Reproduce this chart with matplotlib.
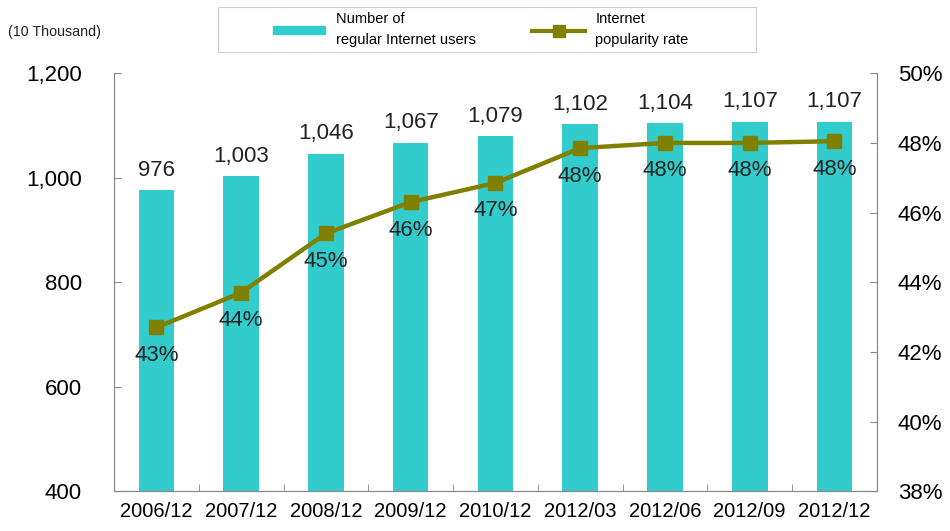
import numpy as np
import matplotlib.pyplot as plt
from matplotlib.patches import Rectangle

plt.rcParams['font.family'] = ['Liberation Sans', 'DejaVu Sans']

# data
periods = ['2006/12', '2007/12', '2008/12', '2009/12', '2010/12',
           '2012/03', '2012/06', '2012/09', '2012/12']
users = [976, 1003, 1046, 1067, 1079, 1102, 1104, 1107, 1107]
user_labels = ['976', '1,003', '1,046', '1,067', '1,079', '1,102', '1,104', '1,107', '1,107']
rate = [42.7, 43.7, 45.4, 46.3, 46.85, 47.85, 48.0, 48.0, 48.05]
rate_labels = ['43%', '44%', '45%', '46%', '47%', '48%', '48%', '48%', '48%']

bar_col = '#33CCCC'
line_col = '#808000'
grey = '#888888'

fig = plt.figure(figsize=(9.5, 5.31), dpi=100)
ax = fig.add_axes([0.12, 0.075, 0.803, 0.787])
x = np.arange(len(periods))

ax.bar(x, users, width=0.42, color=bar_col, zorder=1)
ax.set_ylim(400, 1200)
ax.set_xlim(-0.5, len(periods) - 0.5)
ax.set_yticks([400, 600, 800, 1000, 1200])
ax.set_yticklabels(['400', '600', '800', '1,000', '1,200'])
ax.set_xticks(x)
ax.set_xticklabels(periods)
ax.set_xticks(np.arange(-0.5, len(periods)), minor=True)
ax.tick_params(axis='x', which='major', length=0, labelsize=14.5, pad=8)
ax.tick_params(axis='x', which='minor', direction='in', length=5, color=grey)
ax.tick_params(axis='y', direction='in', length=5, color=grey, labelsize=16, pad=23)
for s in ['left', 'bottom', 'right']:
    ax.spines[s].set_color(grey)
ax.spines['top'].set_visible(False)

for xi, v, lab in zip(x, users, user_labels):
    ax.text(xi, v + 18, lab, ha='center', va='bottom', fontsize=16, color='#222222')

ax2 = ax.twinx()
ax2.plot(x, rate, color=line_col, lw=3.2, marker='s', markersize=10, zorder=3)
ax2.set_ylim(38, 50)
ax2.set_yticks(np.arange(38, 51, 2))
ax2.set_yticklabels([f'{v}%' for v in range(38, 51, 2)])
ax2.tick_params(axis='y', direction='in', length=5, color=grey, labelsize=16, pad=15)
for s in ['left', 'bottom', 'right']:
    ax2.spines[s].set_color(grey)
ax2.spines['top'].set_visible(False)

for xi, v, lab in zip(x, rate, rate_labels):
    ax2.text(xi, v - 0.5, lab, ha='center', va='top', fontsize=16, color='#222222')

fig.text(0.008, 0.94, '(10 Thousand)', fontsize=10.3, va='center', color='#222222')

# legend box drawn separately (wide padding as in the original)
fig.patches.append(Rectangle((0.229, 0.902), 0.567, 0.085, transform=fig.transFigure,
                             fill=False, edgecolor='#cccccc', lw=0.8))
h1 = plt.Rectangle((0, 0), 1, 1, color=bar_col)
h2 = plt.Line2D([], [], color=line_col, lw=3, marker='s', markersize=8)
leg = fig.legend([h1, h2], ['Number of\nregular Internet users', 'Internet\npopularity rate'],
                 ncol=2, loc='center', bbox_to_anchor=(0.506, 0.944),
                 fontsize=10.5, frameon=False,
                 handlelength=3.6, handleheight=0.5, columnspacing=3.9,
                 handletextpad=0.7, borderpad=0.2, borderaxespad=0)
for t in leg.get_texts():
    t.set_linespacing(1.6)

fig.savefig('out.png', dpi=100)
